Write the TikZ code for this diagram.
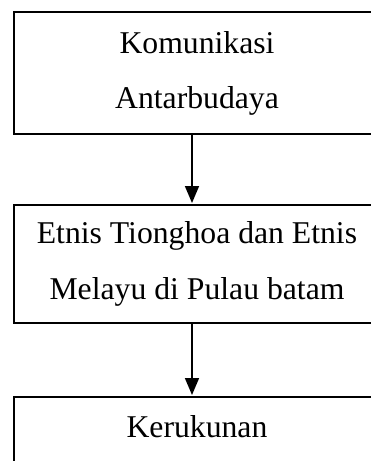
\documentclass[tikz,border=0pt]{standalone}
\usepackage{fontspec}
\setmainfont{Liberation Serif}
\usetikzlibrary{arrows.meta}
\begin{document}
\begin{tikzpicture}[x=1pt,y=-1pt,
  box/.style={draw, line width=1.6pt, inner sep=0pt, outer sep=0pt, minimum width=366pt},
  lbl/.style={anchor=base, inner sep=0pt, font=\fontsize{31.7}{38}\selectfont},
  arr/.style={line width=1.6pt, -{Triangle[length=17pt,width=14pt]}, shorten >=2pt}]
\useasboundingbox (0,0) rectangle (371,461);
\clip (0,0) rectangle (371,461);
\node[box, minimum height=122pt] (b1) at (197,73) {};
\node[box, minimum height=118pt] (b2) at (197,264) {};
\node[box, minimum height=100pt] (b3) at (197,447) {};
\node[lbl] (t1) at (197,53) {Komunikasi};
\node[lbl] (t2) at (197,108) {Antarbudaya};
\node[lbl] (t3) at (197,243) {Etnis Tionghoa dan Etnis};
\node[lbl] (t4) at (197,299) {Melayu di Pulau batam};
\node[lbl] (t5) at (197,437) {Kerukunan};
\coordinate (ax) at (192,0);
\draw[arr] (b1.south -| ax) -- (b2.north -| ax);
\draw[arr] (b2.south -| ax) -- (b3.north -| ax);
\end{tikzpicture}
\end{document}
